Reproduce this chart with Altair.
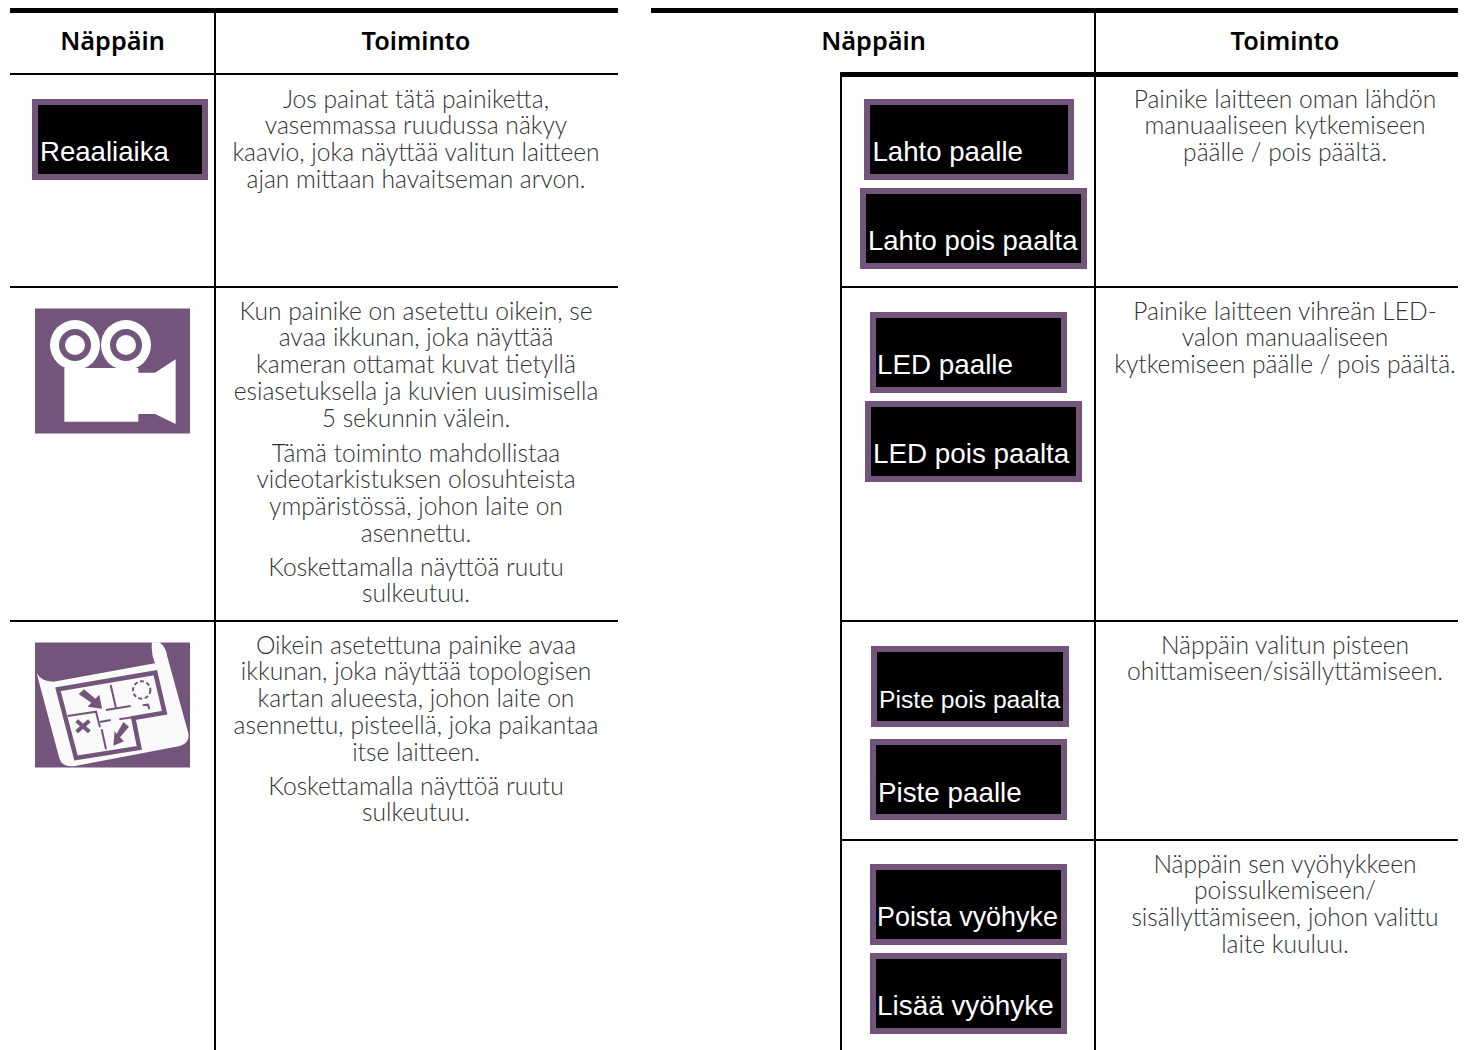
import re
import altair as alt
import pandas as pd

# ---- text content ----
HEAD = ["Näppäin", "Toiminto", "Näppäin", "Toiminto"]
HEAD_X = [112.5, 416, 873.5, 1285]

LEFT_LINES = [
    "Jos painat tätä painiketta,", "vasemmassa ruudussa näkyy",
    "kaavio, joka näyttää valitun laitteen", "ajan mittaan havaitseman arvon.",
    "Kun painike on asetettu oikein, se", "avaa ikkunan, joka näyttää",
    "kameran ottamat kuvat tietyllä", "esiasetuksella ja kuvien uusimisella",
    "5 sekunnin välein.",
    "Tämä toiminto mahdollistaa", "videotarkistuksen olosuhteista",
    "ympäristössä, johon laite on", "asennettu.",
    "Koskettamalla näyttöä ruutu", "sulkeutuu.",
    "Oikein asetettuna painike avaa", "ikkunan, joka näyttää topologisen",
    "kartan alueesta, johon laite on", "asennettu, pisteellä, joka paikantaa",
    "itse laitteen.",
    "Koskettamalla näyttöä ruutu", "sulkeutuu.",
]
LEFT_Y = [107.7, 134.4, 161.1, 187.8, 319.7, 346.4, 373.1, 399.8, 426.5, 461.7, 488.4, 515.1, 541.8, 575.7, 602.4,
          653.7, 680.4, 707.1, 733.8, 760.5, 794.7, 821.4]

RIGHT_LINES = [
    "Painike laitteen oman lähdön", "manuaaliseen kytkemiseen", "päälle / pois päältä.",
    "Painike laitteen vihreän LED-", "valon manuaaliseen", "kytkemiseen päälle / pois päältä.",
    "Näppäin valitun pisteen", "ohittamiseen/sisällyttämiseen.",
    "Näppäin sen vyöhykkeen", "poissulkemiseen/", "sisällyttämiseen, johon valittu", "laite kuuluu.",
]
RIGHT_Y = [107.7, 134.4, 161.1, 319.7, 346.4, 373.1, 653.7, 680.4, 872.7, 899.4, 926.1, 952.8]

BTN_TEXT = ["Reaaliaika", "Lahto paalle", "Lahto pois paalta", "LED paalle", "LED pois paalta",
            "Piste pois paalta", "Piste paalle", "Poista vyöhyke", "Lisää vyöhyke"]
BTN_X0 = [32, 864, 860, 870, 865, 871, 870, 870, 870]
BTN_X1 = [208, 1074, 1087, 1067, 1082, 1069, 1067, 1067, 1067]
BTN_Y0 = [99, 99, 188, 312, 401, 646, 739, 864, 953]
BTN_TX = [40, 872.5, 868, 877, 873, 879, 878, 877, 877]
BTN_TY = [161, 161, 250, 374, 463, 708, 801.5, 925.5, 1014.5]
BTN_FS = [27.6, 27.6, 27.5, 27.8, 27.8, 24.7, 27.8, 26.9, 27.9]

# ---- table rules (x0, x1, y0, y1) ----
RULE_X0 = [10, 651, 10, 840, 10, 840, 10, 840, 840, 214, 1094, 840]
RULE_X1 = [618, 1466, 618, 1466, 618, 1466, 618, 1466, 1466, 216, 1096, 842]
RULE_Y0 = [8, 8, 73, 72, 286, 286, 620, 620, 839, 13, 13, 72]
RULE_Y1 = [13, 13, 75, 77, 288, 288, 622, 622, 841, 1050, 1050, 1050]

PURPLE = "#73547B"
BODY = "#333333"
W, H = 1458, 1050  # the page leaves 1450px of width beside its margin

X = alt.X("x:Q", axis=None, scale=alt.Scale(domain=[8, W], range=[0, W - 8]))
Y = alt.Y("y:Q", axis=None, scale=alt.Scale(domain=[8, H], range=[0, H - 8]))
X2 = alt.X2("x1:Q")
Y2 = alt.Y2("y1:Q")


def boxes(x0, x1, y0, y1, color):
    df = pd.DataFrame({"x": x0, "x1": x1, "y": y0, "y1": y1})
    return alt.Chart(df).mark_rect(color=color, strokeWidth=0).encode(x=X, x2=X2, y=Y, y2=Y2)


def texts(x, y, t, **kw):
    df = pd.DataFrame({"x": x, "y": y, "t": t})
    return alt.Chart(df).mark_text(baseline="alphabetic", **kw).encode(x=X, y=Y, text="t:N")


def zp(s, ox, oy, cx, cy):
    """Convert a path written in 3x crop coordinates to pixels around (cx, cy)."""
    out, i = [], 0
    for tok in re.findall(r"[A-Za-z]|-?[\d.]+", s):
        if tok.isalpha():
            out.append(tok)
        else:
            v = float(tok) / 3 + (ox if i % 2 == 0 else oy) - (cx if i % 2 == 0 else cy)
            out.append(f"{v:.2f}")
            i += 1
    return " ".join(out)


def glyph(cx, cy, path, **kw):
    df = pd.DataFrame({"x": [cx], "y": [cy]})
    return alt.Chart(df).mark_point(shape=path, size=4, opacity=1, **kw).encode(x=X, y=Y)


def dots(x, y, d, color):
    df = pd.DataFrame({"x": x, "y": y, "s": [v * v for v in d]})
    return alt.Chart(df).mark_point(shape="circle", filled=True, opacity=1, color=color, strokeWidth=0).encode(
        x=X, y=Y, size=alt.Size("s:Q", legend=None, scale=None))


layers = [boxes(RULE_X0, RULE_X1, RULE_Y0, RULE_Y1, "#000000")]

# header and body text
layers.append(texts(HEAD_X, [50] * 4, HEAD, font="Noto Sans", fontSize=25.3, fontWeight=600,
                    align="center", color="#000000"))
layers.append(texts([416] * len(LEFT_LINES), LEFT_Y, LEFT_LINES, font="Lato", fontSize=24.6, fontWeight=300,
                    align="center", color=BODY))
layers.append(texts([1285] * len(RIGHT_LINES), RIGHT_Y, RIGHT_LINES, font="Lato", fontSize=24.6, fontWeight=300,
                    align="center", color=BODY))

# buttons
layers.append(boxes(BTN_X0, BTN_X1, BTN_Y0, [v + 81 for v in BTN_Y0], PURPLE))
layers.append(boxes([v + 6 for v in BTN_X0], [v - 6 for v in BTN_X1], [v + 6 for v in BTN_Y0],
                    [v + 75 for v in BTN_Y0], "#000000"))
for x, y, t, fs in zip(BTN_TX, BTN_TY, BTN_TEXT, BTN_FS):
    layers.append(texts([x], [y], [t], font="Liberation Sans", fontSize=fs, align="left", color="#ffffff"))

# camera icon
cx, cy = 112.5, 371
layers.append(boxes([35], [190], [308.5], [433.5], PURPLE))
layers.append(dots([75, 126], [345, 345], [50, 50], "#ffffff"))
layers.append(dots([75, 126], [345, 345], [32, 32], PURPLE))
layers.append(dots([75, 126], [345, 345], [20, 20], "#ffffff"))
layers.append(glyph(cx, cy, zp("M 133 204 L 355 204 L 355 218 L 405 218 L 467 178 L 467 372 L 405 342 L 355 342 L 355 365 L 133 365 Z",
                               20, 300, cx, cy), filled=True, color="#ffffff", strokeWidth=0))

# map icon
cx, cy = 112.5, 705
Z = lambda s: zp(s, 20, 630, cx, cy)
layers.append(boxes([35], [190], [642.5], [767.5], PURPLE))
layers.append(glyph(cx, cy, Z("M 396 37 L 418 37 Q 438 50 442 80 L 505 310 Q 510 338 480 348 L 165 408 Q 125 412 118 385 "
                              "L 50 130 Q 65 155 100 155 L 405 100 Q 392 70 396 37 Z"),
                    filled=True, color="#fafafa", strokeWidth=0))
layers.append(glyph(cx, cy, Z("M 114 178 L 406 128 L 434 248 L 340 264 L 358 354 L 168 384 Z"),
                    filled=False, color=PURPLE, strokeWidth=4.5))
for wall in ["M 272 165 L 288 235", "M 258 240 L 332 228", "M 368 226 L 384 224 L 388 238",
             "M 143 258 L 228 245 L 240 292", "M 240 276 L 272 270", "M 298 268 L 338 262", "M 245 298 L 258 358"]:
    layers.append(glyph(cx, cy, Z(wall), filled=False, color=PURPLE, strokeWidth=2))
layers.append(glyph(cx, cy, Z("M 176 192 L 192 178 L 226 206 L 238 194 L 246 236 L 203 230 L 214 218 Z"),
                    filled=True, color=PURPLE, strokeWidth=0))
layers.append(glyph(cx, cy, Z("M 310 276 L 327 290 L 300 322 L 312 334 L 280 347 L 284 303 L 290 312 Z"),
                    filled=True, color=PURPLE, strokeWidth=0))
layers.append(glyph(cx, cy, Z("M 170 272 L 208 305 M 208 272 L 170 305"), filled=False, color=PURPLE, strokeWidth=4))
df = pd.DataFrame({"x": [20 + 365 / 3], "y": [630 + 180 / 3]})
layers.append(alt.Chart(df).mark_point(shape="circle", size=303, filled=False, opacity=1, color=PURPLE,
                                       strokeWidth=2, strokeDash=[4, 2.5]).encode(x=X, y=Y))

chart = alt.layer(*layers).properties(
    width=W - 8, height=H - 8, padding=0, autosize=alt.AutoSizeParams(type="none"), background="#ffffff"
).configure_view(stroke=None)

chart.save("out.html", embed_options={"renderer": "svg", "actions": False})
